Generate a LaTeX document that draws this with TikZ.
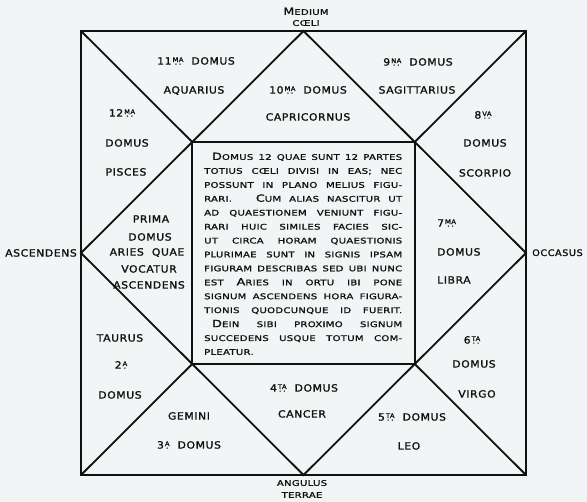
\documentclass[tikz,border=0pt]{standalone}
\usepackage{fontspec}
\usetikzlibrary{calc}
\setmainfont{DejaVu Sans}
\newfontfamily\labf[FakeStretch=1.08,LetterSpace=6,FakeBold=1.5]{DejaVu Sans}
\newfontfamily\widef[FakeStretch=1.3,LetterSpace=3,FakeBold=1.3]{DejaVu Sans}
\newcommand\lab{\labf\fontsize{10}{12}\selectfont}
\newcommand\labs{\labf\fontsize{9}{10}\selectfont}
\newcommand\txt{\widef\fontsize{7.8}{10}\selectfont}
\newcommand\bigc[1]{{\fontsize{9.8}{10}\selectfont #1}}
\newcommand\ordsup[2]{\kern1pt\vbox{\offinterlineskip\halign{\hfil##\hfil\cr\fontsize{6.3}{6.3}\selectfont #1\cr\noalign{\kern1.6pt}\fontsize{8}{8}\selectfont #2\cr}}}
\newcommand\dd{.\kern1.6pt.}
\definecolor{bgc}{HTML}{F1F5F5}
\definecolor{ink}{HTML}{111111}
\tikzset{
  chart/.style={line width=1.8pt, draw=ink, line join=miter},
  lbl/.style={font=\lab, text=ink, inner sep=0pt, anchor=base},
  lblw/.style={lbl, anchor=base west},
  lble/.style={lbl, anchor=base east},
  outl/.style={font=\txt, text=ink, inner sep=0pt, anchor=base},
  tline/.style={font=\txt, text=ink, inner sep=0pt, anchor=base west}
}
\begin{document}
\begin{tikzpicture}[x=1pt,y=-1pt]
\useasboundingbox (0,0) rectangle (587,502);
\fill[bgc] (0,0) rectangle (587,502);
% frame coordinates
\coordinate (TL) at (81,31);
\coordinate (TR) at (526,31);
\coordinate (BR) at (526,475);
\coordinate (BL) at (81,475);
\coordinate (T) at (303.5,31);
\coordinate (R) at (526,253);
\coordinate (B) at (303.5,475);
\coordinate (L) at (81,253);
\coordinate (I1) at ($(T)!0.5!(L)$);
\coordinate (I2) at ($(T)!0.5!(R)$);
\coordinate (I3) at ($(B)!0.5!(R)$);
\coordinate (I4) at ($(B)!0.5!(L)$);
\draw[chart] (TL) -- (TR) -- (BR) -- (BL) -- cycle;
\draw[chart] (T) -- (R) -- (B) -- (L) -- cycle;
\draw[chart] (I1) -- (I2) -- (I3) -- (I4) -- cycle;
\draw[chart] (TL) -- (I1);
\draw[chart] (TR) -- (I2);
\draw[chart] (BR) -- (I3);
\draw[chart] (BL) -- (I4);
% outer labels
\node[outl] (med) at (306,14.9) {\bigc{M}EDIUM};
\node[outl] (coeli) at (306,25.9) {CŒLI};
\node[outl] (ang) at (302,485.9) {ANGULUS};
\node[outl] (terr) at (302,497.9) {TERRAE};
\node[lble] (asc) at (77,256.6) {ASCENDENS};
\node[lblw, font=\labs] (occ) at (532,256) {OCCASUS};
% house 11
\node[lbl] (h11a) at (196,64.6) {11\ordsup{MA}{\dd}\ \ DOMUS};
\node[lbl] (h11b) at (194,93.6) {AQUARIUS};
% house 10
\node[lbl] (h10a) at (308,93.6) {10\ordsup{MA}{\dd}\ \ DOMUS};
\node[lbl] (h10b) at (308,120.6) {CAPRICORNUS};
% house 9
\node[lbl] (h9a) at (418,65.6) {9\ordsup{NA}{\dd}\ \ DOMUS};
\node[lbl] (h9b) at (417,93.6) {SAGITTARIUS};
% house 8
\node[lbl] (h8a) at (483,118.6) {8\ordsup{VA}{\dd}};
\node[lbl] (h8b) at (485,146.6) {DOMUS};
\node[lbl] (h8c) at (485,176.6) {SCORPIO};
% house 12
\node[lbl] (h12a) at (122,116.6) {12\ordsup{MA}{\dd}};
\node[lbl] (h12b) at (127,146.6) {DOMUS};
\node[lbl] (h12c) at (126,175.6) {PISCES};
% house 1
\node[lbl] (h1a) at (151,222.6) {PRIMA};
\node[lbl] (h1b) at (150,240.6) {DOMUS};
\node[lbl] (h1c) at (147,255.6) {ARIES\ \ QUAE};
\node[lbl] (h1d) at (149,272.6) {VOCATUR};
\node[lbl] (h1e) at (149,288.6) {ASCENDENS};
% house 2
\node[lbl] (h2a) at (120,341.6) {TAURUS};
\node[lbl] (h2b) at (121,368.6) {2\ordsup{A}{.}};
\node[lbl] (h2c) at (120,398.6) {DOMUS};
% house 3
\node[lbl] (h3a) at (189,419.6) {GEMINI};
\node[lbl] (h3b) at (189,448.6) {3\ordsup{A}{.}\ \ DOMUS};
% house 4
\node[lbl] (h4a) at (304,391.6) {4\ordsup{TA}{\dd}\ \ DOMUS};
\node[lbl] (h4b) at (302,417.6) {CANCER};
% house 5
\node[lbl] (h5a) at (412,420.6) {5\ordsup{TA}{\dd}\ \ DOMUS};
\node[lbl] (h5b) at (409,449.6) {LEO};
% house 6
\node[lbl] (h6a) at (472,343.6) {6\ordsup{TA}{\dd}};
\node[lbl] (h6b) at (474,367.6) {DOMUS};
\node[lbl] (h6c) at (477,397.6) {VIRGO};
% house 7
\node[lblw] (h7a) at (437,226.6) {7\ordsup{MA}{\dd}};
\node[lblw] (h7b) at (437,255.6) {DOMUS};
\node[lblw] (h7c) at (437,283.6) {LIBRA};
% central text
\node[tline] (t1) at (212,159.9) {\makebox[190pt][s]{\bigc{D}OMUS 12 QUAE SUNT 12 PARTES}};
\node[tline] (t2) at (204,173.8) {\makebox[198pt][s]{TOTIUS CŒLI DIVISI IN EAS; NEC}};
\node[tline] (t3) at (204,187.8) {\makebox[198pt][s]{POSSUNT IN PLANO MELIUS FIGU-}};
\node[tline] (t4) at (204,201.7) {\makebox[198pt][s]{RARI.\ \ \ \bigc{C}UM ALIAS NASCITUR UT}};
\node[tline] (t5) at (204,215.6) {\makebox[198pt][s]{AD QUAESTIONEM VENIUNT FIGU-}};
\node[tline] (t6) at (204,229.6) {\makebox[198pt][s]{RARI HUIC SIMILES FACIES SIC-}};
\node[tline] (t7) at (204,243.5) {\makebox[198pt][s]{UT CIRCA HORAM QUAESTIONIS}};
\node[tline] (t8) at (204,257.4) {\makebox[198pt][s]{PLURIMAE SUNT IN SIGNIS IPSAM}};
\node[tline] (t9) at (204,271.3) {\makebox[198pt][s]{FIGURAM DESCRIBAS SED UBI NUNC}};
\node[tline] (t10) at (204,285.3) {\makebox[198pt][s]{EST \bigc{A}RIES IN ORTU IBI PONE}};
\node[tline] (t11) at (204,299.2) {\makebox[198pt][s]{SIGNUM ASCENDENS HORA FIGURA-}};
\node[tline] (t12) at (204,313.1) {\makebox[198pt][s]{TIONIS QUODCUNQUE ID FUERIT.}};
\node[tline] (t13) at (212,327.1) {\makebox[190pt][s]{\bigc{D}EIN SIBI PROXIMO SIGNUM}};
\node[tline] (t14) at (204,341.0) {\makebox[198pt][s]{SUCCEDENS USQUE TOTUM COM-}};
\node[tline] (t15) at (204,354.9) {PLEATUR.};
\end{tikzpicture}
\end{document}
